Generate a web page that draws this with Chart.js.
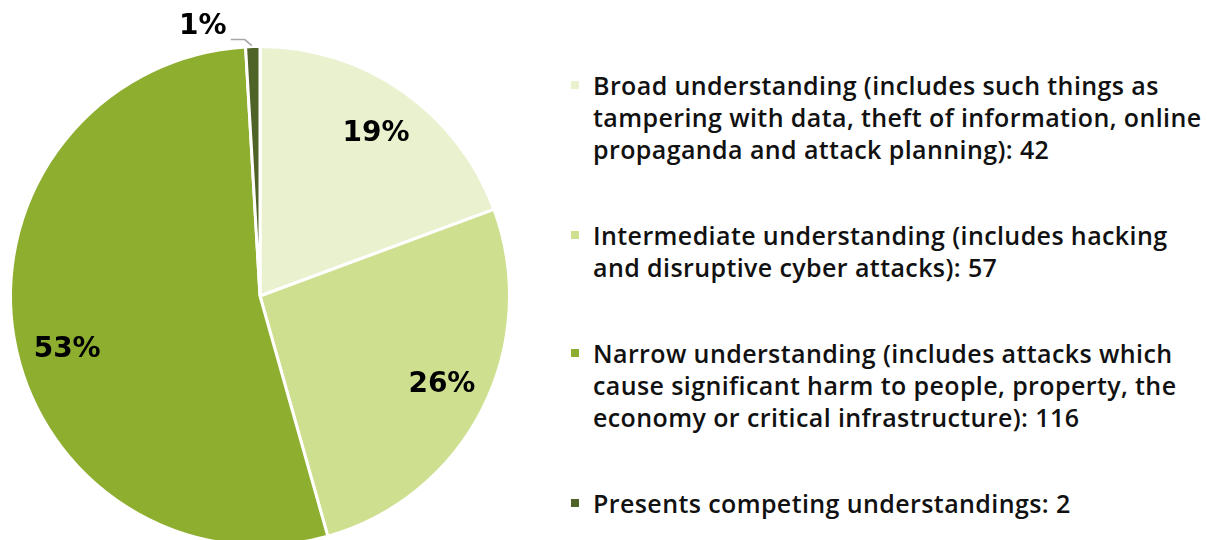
<!DOCTYPE html>
<html>
<head>
<meta charset="utf-8">
<script src="https://cdn.jsdelivr.net/npm/chart.js@4"></script>
<style>
  html, body { margin: 0; padding: 0; background: #fff; overflow: hidden; }
  body { width: 1207px; height: 540px; position: relative; }
  #pieBox { position: absolute; left: 0; top: 0; width: 520px; height: 592px; }
  #legend { position: absolute; left: 569px; top: 69px; width: 640px;
    font-family: "Open Sans", "Noto Sans", sans-serif; font-weight: 600; font-size: 25px;
    letter-spacing: 0.4px; line-height: 32px; color: #111; }
  .item { position: relative; padding-left: 24px; margin-bottom: 54px; }
  .item .sw { position: absolute; left: 2px; top: 12px; width: 8px; height: 8px; }
</style>
</head>
<body>
<div id="pieBox"><canvas id="pie"></canvas></div>
<div id="legend"></div>
<script>
const categories = [
  'Broad understanding (includes such things as tampering with data, theft of information, online propaganda and attack planning)',
  'Intermediate understanding (includes hacking and disruptive cyber attacks)',
  'Narrow understanding (includes attacks which cause significant harm to people, property, the economy or critical infrastructure)',
  'Presents competing understandings'
];
const counts = [42, 57, 116, 2];
const sliceColors = ['#EAF1CF', '#CEE08F', '#8DAE2F', '#4F6228'];

// percentage labels inside the slices, small ones go outside with a leader line
const pctLabels = {
  id: 'pctLabels',
  afterDatasetsDraw(chart, args, opts) {
    const ctx = chart.ctx;
    const total = counts.reduce((a, b) => a + b, 0);
    const meta = chart.getDatasetMeta(0);
    ctx.save();
    ctx.fillStyle = '#000';
    ctx.textAlign = 'center';
    ctx.textBaseline = 'middle';
    ctx.font = 'bold 28px "DejaVu Sans", sans-serif';
    meta.data.forEach((arc, i) => {
      const pct = Math.round(counts[i] / total * 100) + '%';
      const p = arc.getProps(['x', 'y', 'startAngle', 'endAngle', 'outerRadius'], true);
      const mid = (p.startAngle + p.endAngle) / 2;
      const nudge = (opts.nudge && opts.nudge[i]) || [0, 0];
      if (counts[i] / total < 0.03) {
        const ex = p.x + Math.cos(mid) * p.outerRadius;
        const ey = p.y + Math.sin(mid) * p.outerRadius;
        ctx.strokeStyle = '#a6a6a6';
        ctx.lineWidth = 1.5;
        ctx.beginPath();
        ctx.moveTo(ex - 1, ey - 1);
        ctx.lineTo(ex - 8, ey - 7);
        ctx.lineTo(ex - 22, ey - 7);
        ctx.stroke();
        ctx.fillText(pct, ex - 50, ey - 20);
      } else {
        const r = p.outerRadius * 0.8;
        ctx.fillText(pct, p.x + Math.cos(mid) * r + nudge[0], p.y + Math.sin(mid) * r + nudge[1]);
      }
    });
    ctx.restore();
  }
};

const chart = new Chart(document.getElementById('pie'), {
  type: 'pie',
  data: {
    labels: categories,
    datasets: [{
      data: counts,
      backgroundColor: sliceColors,
      borderColor: '#fff',
      borderWidth: 3
    }]
  },
  options: {
    responsive: true,
    maintainAspectRatio: false,
    animation: false,
    layout: { padding: { left: 9, right: 9, top: 45, bottom: 45 } },
    plugins: {
      legend: { display: false },
      tooltip: { enabled: false },
      pctLabels: { nudge: [[2, 2], [4, -2], [4, 21]] }
    }
  },
  plugins: [pctLabels]
});

// html legend so the long labels can wrap
const legend = document.getElementById('legend');
categories.forEach((c, i) => {
  const d = document.createElement('div');
  d.className = 'item';
  d.innerHTML = '<span class="sw" style="background:' + sliceColors[i] + '"></span>' + c + ': ' + counts[i];
  legend.appendChild(d);
});
</script>
</body>
</html>
